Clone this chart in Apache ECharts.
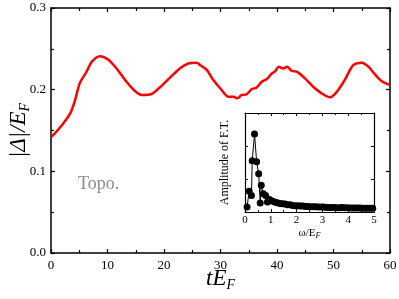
<!DOCTYPE html>
<html>
<head>
<meta charset="utf-8">
<script src="https://cdn.jsdelivr.net/npm/echarts@6/dist/echarts.min.js"></script>
<style>html,body{margin:0;padding:0;background:#fff}#c{width:399px;height:299px}</style>
</head>
<body>
<div id="c"></div>
<script>
// Main curve: time t*E_F vs |Delta|/E_F
const tVals = [0.1,0.7,2.2,3.4,4.25,5.1,6.3,7.2,8.67,10.1,11.6,13.1,14.6,16.05,17.8,19.3,21.1,22.8,24.3,25.8,
  26.4,27.6,28.7,30.2,31.4,32.3,33.0,33.75,34.6,35.5,36.4,37.3,38.2,39.1,39.6,40.35,41.1,41.8,42.6,43.5,
  44.95,46.4,47.9,49.4,50.6,52.0,53.5,55.0,56.2,57.3,58.5,60];
const gapVals = [0.1424,0.1466,0.159,0.171,0.187,0.208,0.222,0.234,0.241,0.237,0.226,0.212,0.200,0.1935,0.1947,0.203,0.215,0.226,0.232,0.233,
  0.230,0.224,0.212,0.1996,0.1914,0.1914,0.1894,0.1935,0.1943,0.2004,0.2028,0.2098,0.213,0.220,0.222,0.228,0.226,0.228,0.223,0.222,
  0.2139,0.2036,0.1955,0.1906,0.1975,0.212,0.230,0.233,0.228,0.219,0.2106,0.2057];
// Inset: Fourier-transform amplitude vs omega/E_F (arbitrary units)
const ftOmega = [0.08,0.16,0.25,0.28,0.37,0.45,0.53,0.59,0.63,0.71,0.8,0.87,0.95,1.05,1.15,1.25,1.35,1.45,1.55,1.65,1.75,1.85,1.95,
  2.05,2.15,2.25,2.35,2.45,2.55,2.65,2.75,2.85,2.95,3.05,3.15,3.25,3.35,3.45,3.55,3.65,3.75,3.85,3.95,4.05,4.15,4.25,4.35,4.45,4.55,4.65,4.75,4.85,4.95];
const ftAmp = [0.15,0.63,0.5,1.55,2.36,1.52,1.16,0.27,0.81,0.55,0.5,0.3,0.38,0.33,0.3,0.28,0.26,0.25,0.24,0.22,0.22,0.2,0.19,
  0.19,0.18,0.18,0.17,0.17,0.16,0.16,0.16,0.15,0.15,0.15,0.14,0.14,0.14,0.14,0.13,0.13,0.14,0.13,0.13,0.12,0.12,0.12,0.12,0.12,0.11,0.11,0.11,0.11,0.11];
const mainXTicks = [0,10,20,30,40,50,60];
const mainYTicks = ['0.0','0.1','0.2','0.3'];
const insetXTicks = [0,1,2,3,4,5];

const serif = 'Liberation Serif';
function axisBase(extra){
  return Object.assign({
    nameMoveOverlap:false,
    axisLine:{show:true,onZero:false,lineStyle:{color:'#000',width:1.5}},
    axisTick:{show:true,inside:true,length:4,lineStyle:{color:'#000',width:1.2}},
    minorTick:{show:true,splitNumber:2,length:3,lineStyle:{color:'#000',width:1.2}},
    splitLine:{show:false},
    axisLabel:{show:false}
  }, extra);
}
const chart = echarts.init(document.getElementById('c'));
chart.setOption({
  animation:false,
  backgroundColor:'#fff',
  grid:[
    {left:51,top:8,width:339,height:245,containLabel:false,outerBoundsMode:'none'},
    {left:245,top:113,width:129,height:99,containLabel:false,outerBoundsMode:'none'}
  ],
  xAxis:[
    axisBase({gridIndex:0,type:'value',min:0,max:60,interval:10,position:'bottom',
      axisLabel:{show:true,margin:6,fontFamily:serif,fontSize:13,color:'#000'},
      name:'{i|tE}{s|F}',nameLocation:'middle',nameGap:13,
      nameTextStyle:{rich:{i:{fontFamily:serif,fontStyle:'italic',fontSize:23,color:'#000'},
        s:{fontFamily:serif,fontStyle:'italic',fontSize:14,color:'#000',padding:[12,0,0,0]}}}}),
    axisBase({gridIndex:0,type:'value',min:0,max:60,interval:10,position:'top'}),
    axisBase({gridIndex:1,type:'value',min:0,max:5,interval:1,position:'bottom',
      axisTick:{show:true,inside:true,length:3,lineStyle:{color:'#000',width:1}},
      minorTick:{show:true,splitNumber:2,length:2,lineStyle:{color:'#000',width:1}},
      axisLine:{show:true,onZero:false,lineStyle:{color:'#000',width:1.2}},
      axisLabel:{show:true,margin:3,fontFamily:serif,fontSize:11,color:'#000'},
      name:'{i|ω/E}{s|F}',nameLocation:'middle',nameGap:14,
      nameTextStyle:{rich:{i:{fontFamily:serif,fontSize:11,color:'#000'},
        s:{fontFamily:serif,fontStyle:'italic',fontSize:8,color:'#000',padding:[6,0,0,0]}}}}),
    axisBase({gridIndex:1,type:'value',min:0,max:5,interval:1,position:'top',
      axisTick:{show:true,inside:true,length:3,lineStyle:{color:'#000',width:1}},
      minorTick:{show:true,splitNumber:2,length:2,lineStyle:{color:'#000',width:1}},
      axisLine:{show:true,onZero:false,lineStyle:{color:'#000',width:1.2}}})
  ],
  yAxis:[
    axisBase({gridIndex:0,type:'value',min:0,max:0.3,interval:0.1,position:'left',
      axisLabel:{show:true,margin:5,fontFamily:serif,fontSize:13,color:'#000'  ,
        formatter:(v)=>mainYTicks[Math.round(v*10)]},
      name:'{i||Δ|/E}{s|F}',nameLocation:'middle',nameGap:19,nameRotate:90,
      nameTextStyle:{rich:{i:{fontFamily:serif,fontStyle:'italic',fontSize:23,color:'#000'},
        s:{fontFamily:serif,fontStyle:'italic',fontSize:14,color:'#000',padding:[12,0,0,0]}}}}),
    axisBase({gridIndex:0,type:'value',min:0,max:0.3,interval:0.1,position:'right'}),
    axisBase({gridIndex:1,type:'value',min:0,max:3,interval:1,position:'left',
      axisTick:{show:true,inside:true,length:3,lineStyle:{color:'#000',width:1}},
      minorTick:{show:false},
      axisLine:{show:true,onZero:false,lineStyle:{color:'#000',width:1.2}},
      name:'Amplitude of F.T.',nameLocation:'middle',nameGap:14,nameRotate:90,
      nameTextStyle:{fontFamily:serif,fontSize:12,color:'#000'}}),
    axisBase({gridIndex:1,type:'value',min:0,max:3,interval:1,position:'right',
      axisTick:{show:true,inside:true,length:3,lineStyle:{color:'#000',width:1}},
      minorTick:{show:false},
      axisLine:{show:true,onZero:false,lineStyle:{color:'#000',width:1.2}}})
  ],
  graphic:[
    {type:'text',left:78,top:175,style:{text:'Topo.',font:'18px "Liberation Serif"',fill:'#8c8c8c'}}
  ],
  series:[
    {type:'line',xAxisIndex:0,yAxisIndex:0,data:tVals.map((t,i)=>[t,gapVals[i]]),
      smooth:0.3,showSymbol:false,lineStyle:{color:'#ff0000',width:2.5}},
    {type:'line',xAxisIndex:2,yAxisIndex:2,data:ftOmega.map((w,i)=>[w,ftAmp[i]]),
      symbol:'circle',symbolSize:7,itemStyle:{color:'#000'},lineStyle:{color:'#000',width:1}}
  ]
});
</script>
</body>
</html>
